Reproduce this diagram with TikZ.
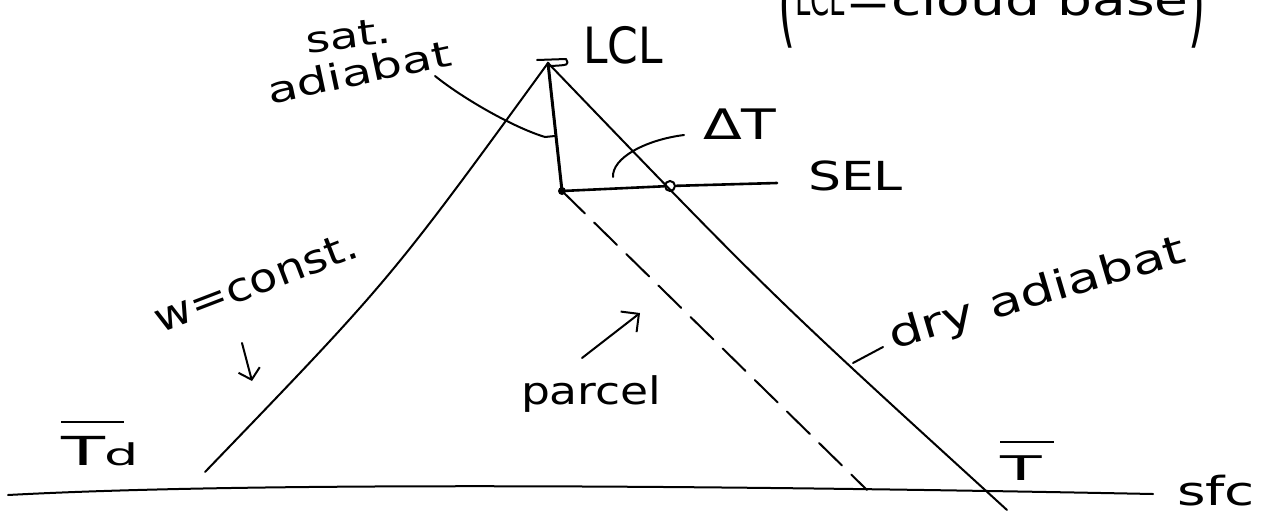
\documentclass[tikz,border=0pt]{standalone}
\usepackage{graphicx}
\usepackage{fontspec}
\setmainfont{DejaVu Sans}
\usetikzlibrary{arrows.meta}
\newcommand\hw[2]{\fontsize{#1}{#1}\selectfont\addfontfeatures{FakeStretch=#2}}
\newcommand\obar[4]{\vbox{\hrule height #1 width #4\kern #2\hbox{#3}}}
\begin{document}
\begin{tikzpicture}[x=1pt,y=-1pt,
  curve/.style={line width=2pt, line cap=round, line join=round},
  ptr/.style={line width=2pt, line cap=round},
  lbl/.style={inner sep=0pt, outer sep=0pt, anchor=base west}]
\useasboundingbox (0,0) rectangle (1273,514);

% key points
\coordinate (apex) at (548,63);
\coordinate (td0) at (205,472);
\coordinate (dry0) at (1007,510);
\coordinate (base) at (562,191);
\coordinate (sel1) at (777,183);
\coordinate (parc0) at (867,490);
\coordinate (sfcL) at (8,495);
\coordinate (sfcR) at (1153,494);
\node[draw, circle, minimum size=10pt, inner sep=0pt, line width=2pt] (selpt) at (670,186) {};
\node[fill, circle, minimum size=8pt, inner sep=0pt] (basedot) at (base) {};

% surface
\draw[curve] (sfcL) .. controls (250,482) and (700,485) .. (sfcR);

% w = const curve
\draw[curve] (apex) .. controls (390,280) .. (td0);
% dry adiabat
\draw[curve] (apex) .. controls (770,294) .. (dry0);
% saturated adiabat
\draw[line width=3pt, line cap=round] (apex) -- (base);
% apex flag
\coordinate (fl0) at (537,60);
\coordinate (fl1) at (566,59);
\coordinate (fl2) at (551,66);
\draw[curve] (fl0) -- (fl1) .. controls (569,65) .. (fl2);
% SEL line
\draw[line width=2.6pt, line cap=round] (base) -- (selpt) -- (sel1);
% parcel (dashed)
\draw[curve, dash pattern=on 32pt off 13pt] (base) -- (parc0);

% labels
\node[lbl] (lcl) at (583,63) {\hw{50}{0.88}LCL};
\node[lbl, rotate=7] (sat) at (307,53) {\hw{36}{1.3}sat.};
\node[lbl, rotate=12] (adb) at (270,104) {\hw{36}{1.38}adiabat};
\node[lbl] (dT) at (703,139) {\hw{42}{1.35}ΔT};
\node[lbl] (sel) at (808,190) {\hw{40}{1.3}SEL};
\node[lbl, rotate=21] (wc) at (160,333) {\hw{40}{1.15}w=const.};
\node[lbl] (parcel) at (521,404) {\hw{38}{1.2}parcel};
\node[lbl, rotate=16.5] (dry) at (893,349) {\hw{40}{1.34}dry adiabat};
\node[lbl] (Td) at (61,465) {\hw{40}{1.8}\obar{2pt}{13pt}{T{\hw{30}{1.8}d}}{63pt}};
\node[lbl] (Tb) at (1000,480) {\hw{34}{2.0}\obar{2pt}{12pt}{T}{54pt}};
\node[lbl] (sfc) at (1177,505) {\hw{40}{1.37}sfc};
\node[lbl] (top) at (778,16) {\hw{44}{1.25}\raisebox{-20pt}{\scalebox{0.8}[2.2]{(}}\scalebox{0.5}[1]{LCL}=cloud base\raisebox{-20pt}{\scalebox{0.8}[2.2]{)}}};

% pointers
\coordinate (sp0) at (435,76);
\coordinate (sp1) at (545,137);
\coordinate (sp2) at (555,136);
\draw[ptr] (sp0) .. controls (465,100) and (515,128) .. (sp1) -- (sp2);
\coordinate (dp0) at (684,135);
\coordinate (dp1) at (613,177);
\draw[ptr] (dp0) .. controls (645,140) and (612,158) .. (dp1);
\coordinate (pa0) at (582,358);
\coordinate (pa1) at (640,313);
\draw[ptr, -{Straight Barb[length=13pt, width=26pt, line width=2pt]}] (pa0) -- (pa1);
\coordinate (wa0) at (242,343);
\coordinate (wa1) at (252,381);
\draw[ptr, -{Straight Barb[length=10pt, width=22pt, line width=2pt]}] (wa0) -- (wa1);
\coordinate (da0) at (853,363);
\coordinate (da1) at (883,347);
\draw[ptr] (da0) -- (da1);
\end{tikzpicture}
\end{document}
